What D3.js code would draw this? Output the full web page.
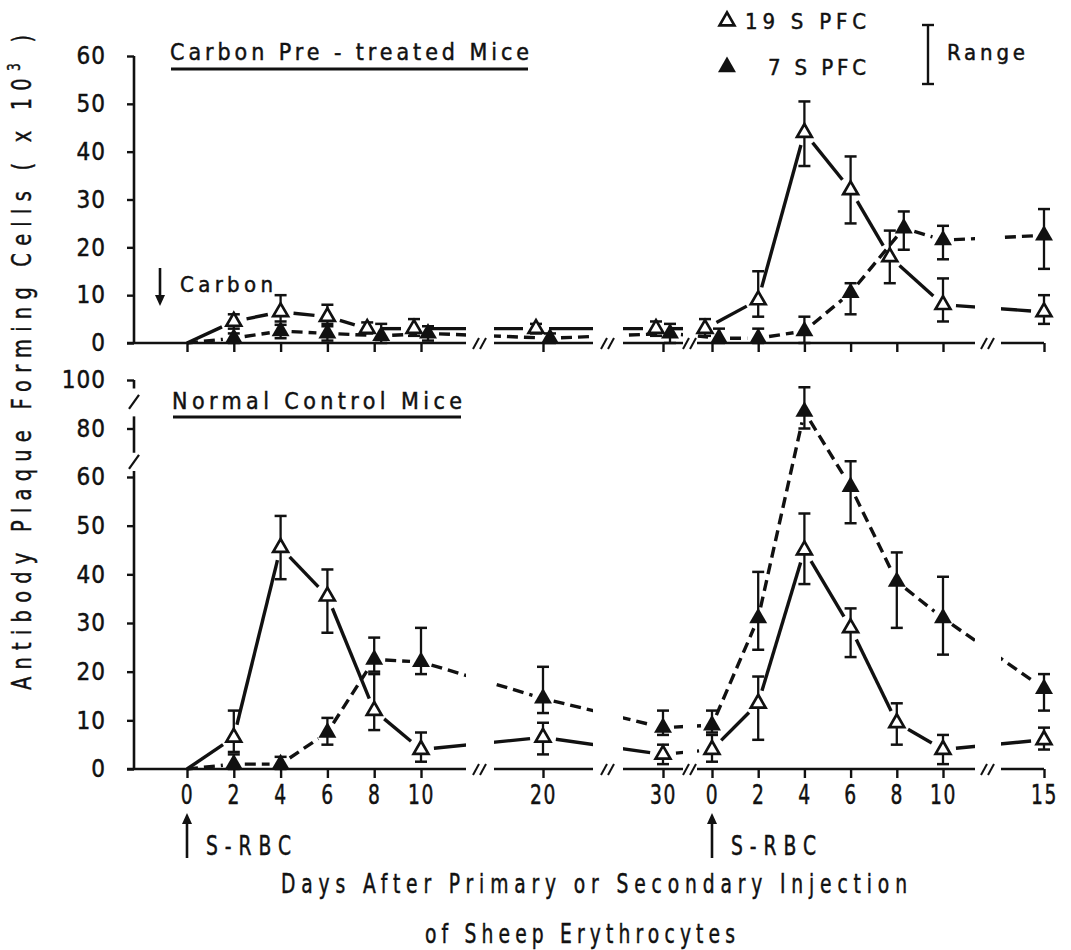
<!DOCTYPE html>
<html>
<head>
<meta charset="utf-8">
<script src="https://cdn.jsdelivr.net/npm/d3@7/dist/d3.min.js"></script>
<style>
  body { margin: 0; background: #fff; }
  svg { display: block; }
  .cond { font-family: "DejaVu Sans Condensed", "DejaVu Sans", sans-serif; fill: #111; stroke: #111; stroke-width: 0.45px; }
  .narrow { font-family: "DejaVu Sans Condensed", "DejaVu Sans", sans-serif; fill: #111; stroke: #111; stroke-width: 0.45px; }
</style>
</head>
<body>
<div id="chart"></div>
<script>
// Days after primary injection, then days after secondary injection
var primaryDays = [0, 2, 4, 6, 8, 10, 20, 30];
var secondaryDays = [0, 2, 4, 6, 8, 10, 15];

// Carbon pre-treated mice (x 10^3 cells), 8 primary values then 7 secondary
var carbon19S   = [0, 4.5, 6.5, 5.5, 3, 3, 3, 3,      3, 9, 44, 32, 18, 8, 6.5];
var carbon19SLo = [null, 3, 4.5, 4, 2, 1.5, 2, 1.5,   1.5, 5.5, 37, 25, 12.5, 4.5, 4];
var carbon19SHi = [null, 6, 10, 8, 4.3, 5, 4, 4.5,    5, 15, 50.5, 39, 23.5, 13.5, 10];
var carbon7S    = [0, 1, 2.5, 2, 1.5, 2, 1, 2,        1, 1, 2.5, 10.5, 24, 21.5, 22.5];
var carbon7SLo  = [null, 0, 1, 0.5, 0, 0.5, 0, 0,     0, 0, 0, 6, 19.5, 17.5, 15.5];
var carbon7SHi  = [null, 2, 3.8, 3.5, 4, 3.5, 2, 4,   3, 3, 5.5, 12.5, 27.5, 24.5, 28];

// Normal control mice
var normal19S   = [0, 6.5, 45.5, 35.5, 12, 4, 6.5, 3,    4, 13.5, 45, 29, 9.5, 4, 6];
var normal19SLo = [null, 3.5, 39, 28, 8, 1.5, 3, 1,      1.5, 6, 38, 23, 5, 1, 4];
var normal19SHi = [null, 12, 52, 41, 19.5, 7.5, 9.5, 5,  7, 19, 52.5, 33, 13.5, 7, 8.5];
var normal7S    = [0, 1, 1, 7.5, 22.5, 22, 14.5, 8.5,    9, 31, 87, 58, 38.5, 31, 16.5];
var normal7SLo  = [null, 0, 0, 5, 20, 19.5, 11.5, 7,     7.5, 24.5, 80, 50.5, 29, 23.5, 12];
var normal7SHi  = [null, 3, 2.5, 10.5, 27, 29, 21, 12,   12, 40.5, 97, 66.5, 44.5, 39.5, 19.5];

// Tick labels
var topYTicks = [0, 10, 20, 30, 40, 50, 60];
var bottomYTicks = [0, 10, 20, 30, 40, 50, 60, 80, 100];

var width = 1071, height = 950;
var axisX = 134;
var squeeze = 0.8; // horizontal squeeze for the narrow lettering

var svg = d3.select("#chart").append("svg")
    .attr("width", width)
    .attr("height", height);

// Broken x axis: two piecewise scales
var xPrim = d3.scaleLinear().domain([0, 10, 20, 30]).range([187, 421, 543, 663]);
var xSec = d3.scaleLinear().domain([0, 10, 15]).range([712, 943, 1044]);

// Break gaps on the x axis (pixel centre, width)
var breaks = [{c: 480, w: 28}, {c: 608, w: 30}, {c: 690, w: 14}, {c: 988, w: 26}];

var yTop = d3.scaleLinear().domain([0, 60]).range([343, 56]);
var yBot = d3.scaleLinear().domain([0, 60, 100]).range([769, 477, 380]);

function xOf(i) {
    return i < primaryDays.length ? xPrim(primaryDays[i]) : xSec(secondaryDays[i - primaryDays.length]);
}

var panels = [
    {y: yTop, ticks: topYTicks, labels: false,
     s19: [carbon19S, carbon19SLo, carbon19SHi], s7: [carbon7S, carbon7SLo, carbon7SHi]},
    {y: yBot, ticks: bottomYTicks, labels: true,
     s19: [normal19S, normal19SLo, normal19SHi], s7: [normal7S, normal7SLo, normal7SHi]}
];

// mask that cuts the data lines at the axis breaks
var mask = svg.append("defs").append("mask")
    .attr("id", "breakMask")
    .attr("maskUnits", "userSpaceOnUse")
    .attr("x", 0).attr("y", 0).attr("width", width).attr("height", height);
mask.append("rect").attr("width", width).attr("height", height).attr("fill", "#fff");
breaks.forEach(function(b) {
    mask.append("rect").attr("x", b.c - b.w / 2).attr("y", 0)
        .attr("width", b.w).attr("height", height).attr("fill", "#000");
});

var tri = d3.symbol().type(d3.symbolTriangle);

panels.forEach(function(p) {
    var y = p.y;
    var y0 = y(0);
    var g = svg.append("g");

    // --- x axis line with breaks
    var starts = [axisX - 7].concat(breaks.map(function(b) { return b.c + b.w / 2; }));
    var ends = breaks.map(function(b) { return b.c - b.w / 2; }).concat([xSec(15)]);
    starts.forEach(function(s, k) {
        g.append("line").attr("x1", s).attr("x2", ends[k]).attr("y1", y0).attr("y2", y0)
            .attr("stroke", "#111").attr("stroke-width", 2.6);
    });
    breaks.forEach(function(b) {
        [-4, 3].forEach(function(k) {
            g.append("line")
                .attr("x1", b.c + k - 3).attr("y1", y0 + 6)
                .attr("x2", b.c + k + 3).attr("y2", y0 - 5)
                .attr("stroke", "#111").attr("stroke-width", 2);
        });
    });

    // x ticks
    [[xPrim, primaryDays], [xSec, secondaryDays]].forEach(function(pair) {
        var ax = g.append("g")
            .attr("transform", "translate(0," + y0 + ")")
            .call(d3.axisBottom(pair[0]).tickValues(pair[1]).tickSize(9).tickSizeOuter(0).tickPadding(8)
                .tickFormat(p.labels ? d3.format("d") : function() { return ""; }));
        ax.select(".domain").remove();
        ax.selectAll(".tick line").attr("stroke", "#111").attr("stroke-width", 2.4);
        ax.selectAll(".tick text").attr("class", "narrow")
            .attr("transform", "scale(" + squeeze + ",1)")
            .style("font-size", "26px").style("letter-spacing", "2px");
    });

    // --- y axis
    var yAx = g.append("g")
        .attr("transform", "translate(" + axisX + ",0)")
        .call(d3.axisLeft(y).tickValues(p.ticks).tickSize(7).tickPadding(21).tickFormat(d3.format("d")));
    yAx.select(".domain").remove();
    yAx.selectAll(".tick line").attr("stroke", "#111").attr("stroke-width", 2.4);
    yAx.selectAll(".tick text").attr("class", "cond")
        .style("font-size", "24px").style("letter-spacing", "1px");

    var ySegs = p.labels ? [[0, 62.5], [70, 85], [96.5, 100]] : [[0, 60]];
    ySegs.forEach(function(s) {
        g.append("line").attr("x1", axisX).attr("x2", axisX)
            .attr("y1", y(s[0])).attr("y2", y(s[1]))
            .attr("stroke", "#111").attr("stroke-width", 2.6);
    });
    if (p.labels) {
        [66.2, 91].forEach(function(v) {
            g.append("line")
                .attr("x1", axisX - 5).attr("y1", y(v) + 7)
                .attr("x2", axisX + 5).attr("y2", y(v) - 7)
                .attr("stroke", "#111").attr("stroke-width", 2.2);
        });
    }

    // --- build points; shift the two markers sideways where their ranges overlap
    function pts(s, other, side) {
        return s[0].map(function(v, i) {
            var dx = 0;
            if (s[1][i] != null && other[1][i] != null) {
                var lo = Math.max(s[1][i], other[1][i]);
                var hi = Math.min(s[2][i], other[2][i]);
                if (lo <= hi) dx = side * 7;
            }
            return {x: xOf(i) + dx, y: y(v), yLo: s[1][i] == null ? null : y(s[1][i]),
                    yHi: s[2][i] == null ? null : y(s[2][i]), marker: s[1][i] != null};
        });
    }
    var p19 = pts(p.s19, p.s7, -1);
    var p7 = pts(p.s7, p.s19, 1);

    // --- lines, trimmed short of each marker and cut at the axis breaks
    var lineG = g.append("g").attr("mask", "url(#breakMask)");
    function drawLines(points, trim, dash) {
        for (var i = 0; i < points.length - 1; i++) {
            var a = points[i], b = points[i + 1];
            var dx = b.x - a.x, dy = b.y - a.y, len = Math.sqrt(dx * dx + dy * dy);
            var t0 = a.marker ? trim : 0, t1 = b.marker ? trim : 0;
            if (len <= t0 + t1 + 2) continue;
            lineG.append("line")
                .attr("x1", a.x + dx / len * t0).attr("y1", a.y + dy / len * t0)
                .attr("x2", b.x - dx / len * t1).attr("y2", b.y - dy / len * t1)
                .attr("stroke", "#111").attr("stroke-width", 3.4)
                .attr("stroke-dasharray", dash);
        }
    }
    drawLines(p19, 13, null);
    drawLines(p7, 11, "11,6");

    // --- range bars
    function drawBars(points) {
        points.filter(function(d) { return d.marker; }).forEach(function(d) {
            g.append("line").attr("x1", d.x).attr("x2", d.x).attr("y1", d.yLo).attr("y2", d.yHi)
                .attr("stroke", "#111").attr("stroke-width", 2.3);
            [d.yLo, d.yHi].forEach(function(yy) {
                g.append("line").attr("x1", d.x - 6).attr("x2", d.x + 6).attr("y1", yy).attr("y2", yy)
                    .attr("stroke", "#111").attr("stroke-width", 2.5);
            });
        });
    }
    drawBars(p19);
    drawBars(p7);

    // --- markers
    g.selectAll(".m19").data(p19.filter(function(d) { return d.marker; })).enter()
        .append("path")
        .attr("d", tri.size(95))
        .attr("transform", function(d) { return "translate(" + d.x + "," + d.y + ")"; })
        .attr("fill", "#fff").attr("stroke", "#111").attr("stroke-width", 2.7);
    g.selectAll(".m7").data(p7.filter(function(d) { return d.marker; })).enter()
        .append("path")
        .attr("d", tri.size(140))
        .attr("transform", function(d) { return "translate(" + d.x + "," + d.y + ")"; })
        .attr("fill", "#111");
});

// --- panel titles
function underlinedTitle(txt, x0, x1, base, lineY) {
    svg.append("text").attr("class", "cond")
        .attr("x", x0).attr("y", base)
        .attr("textLength", x1 - x0).attr("lengthAdjust", "spacing")
        .style("font-size", "23px").text(txt);
    svg.append("line").attr("x1", x0 + 1).attr("x2", x1 - 1).attr("y1", lineY).attr("y2", lineY)
        .attr("stroke", "#111").attr("stroke-width", 3);
}
underlinedTitle("Carbon Pre - treated Mice", 170, 529, 60, 69);
underlinedTitle("Normal Control Mice", 172, 462, 409, 417);

// --- legend
svg.append("path").attr("d", tri.size(95)).attr("transform", "translate(727,21)")
    .attr("fill", "#fff").attr("stroke", "#111").attr("stroke-width", 2.7);
svg.append("path").attr("d", tri.size(140)).attr("transform", "translate(727,67)")
    .attr("fill", "#111");
svg.append("text").attr("class", "cond").attr("x", 745).attr("y", 29)
    .attr("textLength", 121).attr("lengthAdjust", "spacing")
    .style("font-size", "22px").text("19 S  PFC");
svg.append("text").attr("class", "cond").attr("x", 768).attr("y", 75)
    .attr("textLength", 98).attr("lengthAdjust", "spacing")
    .style("font-size", "22px").text("7 S  PFC");
svg.append("line").attr("x1", 928).attr("x2", 928).attr("y1", 25).attr("y2", 84)
    .attr("stroke", "#111").attr("stroke-width", 2.4);
[25, 84].forEach(function(yy) {
    svg.append("line").attr("x1", 922).attr("x2", 934).attr("y1", yy).attr("y2", yy)
        .attr("stroke", "#111").attr("stroke-width", 2.4);
});
svg.append("text").attr("class", "cond").attr("x", 947).attr("y", 60)
    .attr("textLength", 78).attr("lengthAdjust", "spacing")
    .style("font-size", "22px").text("Range");

// --- arrows: carbon and sheep red blood cells
function arrow(x, yTail, yHead) {
    var dir = yHead > yTail ? 1 : -1;
    svg.append("line").attr("x1", x).attr("x2", x).attr("y1", yTail).attr("y2", yHead - dir * 8)
        .attr("stroke", "#111").attr("stroke-width", 2.6);
    svg.append("path")
        .attr("d", "M" + (x - 5) + "," + (yHead - dir * 11) + "L" + x + "," + yHead + "L" + (x + 5) + "," + (yHead - dir * 11) + "Z")
        .attr("fill", "#111");
}
arrow(160, 268, 306);
svg.append("text").attr("class", "cond").attr("x", 180).attr("y", 292)
    .attr("textLength", 93).attr("lengthAdjust", "spacing")
    .style("font-size", "22px").text("Carbon");

// narrow text: squeezed horizontally, textLength given in screen pixels
function narrowText(txt, x, y, len, size) {
    return svg.append("text").attr("class", "narrow")
        .attr("transform", "translate(" + x + "," + y + ") scale(" + squeeze + ",1)")
        .attr("textLength", len / squeeze).attr("lengthAdjust", "spacing")
        .style("font-size", size + "px").text(txt);
}
[xPrim(0), xSec(0)].forEach(function(x) {
    arrow(x, 858, 813);
    narrowText("S-RBC", x + 19, 855, 85, 26);
});

// --- axis titles
narrowText("Days After Primary or Secondary Injection", 281, 893, 626, 26);
narrowText("of Sheep Erythrocytes", 425, 943, 310, 26);

var yl = svg.append("text").attr("class", "narrow")
    .attr("transform", "translate(31,690) rotate(-90) scale(" + squeeze + ",1)")
    .attr("textLength", 655 / squeeze).attr("lengthAdjust", "spacing")
    .style("font-size", "27px");
yl.append("tspan").text("Antibody Plaque Forming Cells ( x 10");
yl.append("tspan").attr("dy", -11).style("font-size", "17px").text("3");
yl.append("tspan").attr("dy", 11).text(" )");
</script>
</body>
</html>
